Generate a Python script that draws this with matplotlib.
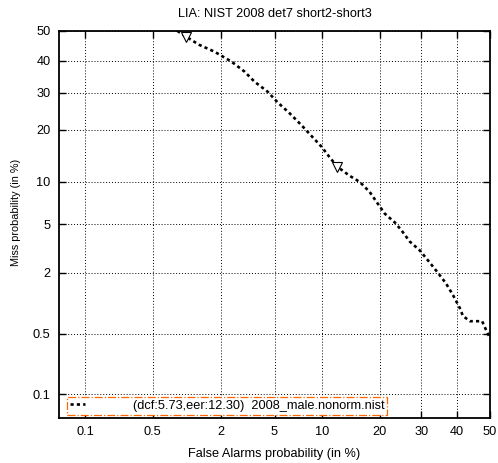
import numpy as np
import matplotlib
matplotlib.use('Agg')
import matplotlib.pyplot as plt
from matplotlib.ticker import FixedLocator, NullLocator
from statistics import NormalDist

plt.rcParams['font.family'] = ['Liberation Sans', 'DejaVu Sans']

# DET curve (percent values)
fa_pct = [0.85, 1.02, 1.32, 1.77, 2.42, 3.04, 3.61, 4.47, 5.24, 6.30, 7.52,
          8.79, 9.94, 11.0, 12.2, 14.2, 16.0, 17.9, 19.6, 21.1, 23.4, 25.0,
          27.0, 29.6, 31.8, 34.2, 36.8, 38.9, 40.9, 41.8, 43.9, 47.6, 48.8, 50.0]
miss_pct = [50.0, 48.0, 45.3, 43.0, 39.7, 36.5, 33.3, 30.3, 27.2, 24.2, 21.1,
            18.3, 16.2, 14.2, 12.4, 10.9, 9.96, 8.56, 7.08, 6.01, 5.16, 4.48,
            3.67, 3.10, 2.55, 2.05, 1.60, 1.23, 0.92, 0.77, 0.68, 0.68, 0.55, 0.45]

# min DCF point and EER point
marker_fa = [1.02, 12.2]
marker_miss = [48.0, 12.4]

tick_vals = [0.1, 0.5, 2, 5, 10, 20, 30, 40, 50]
tick_labels = ['0.1', '0.5', '2', '5', '10', '20', '30', '40', '50']
legend_label = '(dcf:5.73,eer:12.30)  2008_male.nonorm.nist'

_nd = NormalDist()
_ppf = np.vectorize(_nd.inv_cdf, otypes=[float])
_cdf = np.vectorize(_nd.cdf, otypes=[float])


def probit(p):
    p = np.clip(np.asarray(p, dtype=float) / 100.0, 1e-9, 1 - 1e-9)
    return _ppf(p)


def inv_probit(z):
    return 100.0 * _cdf(np.asarray(z, dtype=float))


fig = plt.figure(figsize=(4.98, 4.63), dpi=100)
ax = fig.add_axes([0.1185, 0.0972, 0.8655, 0.836])
ax.set_xscale('function', functions=(probit, inv_probit))
ax.set_yscale('function', functions=(probit, inv_probit))

ax.plot(fa_pct, miss_pct, color='black', lw=1.9, linestyle=(0, (1.2, 1.2)),
        label=legend_label)
ax.plot(marker_fa, marker_miss, linestyle='none', marker='v', markersize=7,
        markerfacecolor='white', markeredgecolor='black', markeredgewidth=0.8)

ax.set_xlim(0.05, 50)
ax.set_ylim(0.05, 50)
for axis in (ax.xaxis, ax.yaxis):
    axis.set_major_locator(FixedLocator(tick_vals))
    axis.set_minor_locator(NullLocator())
ax.set_xticklabels(tick_labels)
ax.set_yticklabels(tick_labels)

ax.grid(True, color='black', linestyle=(0, (1, 2)), linewidth=0.7)
ax.tick_params(direction='in', length=5, width=1, top=True, right=True,
               labelsize=9.2, pad=6)
for sp in ax.spines.values():
    sp.set_linewidth(1.3)

ax.set_xlabel('False Alarms probability (in %)', fontsize=9.2, labelpad=7)
ax.set_ylabel('Miss probability (in %)', fontsize=7.8)
ax.yaxis.set_label_coords(-0.088, 0.53)
ax.set_title('LIA: NIST 2008 det7 short2-short3', fontsize=9.2, pad=10)

leg = ax.legend(loc='lower left', bbox_to_anchor=(0.018, 0.008),
                borderaxespad=0, fontsize=9.2, handlelength=1.2,
                handletextpad=3.7, borderpad=0.25, fancybox=False,
                framealpha=1)
frame = leg.get_frame()
frame.set_edgecolor('#ff6600')
frame.set_linestyle('-.')
frame.set_linewidth(0.9)

fig.savefig('out.png', dpi=100)
